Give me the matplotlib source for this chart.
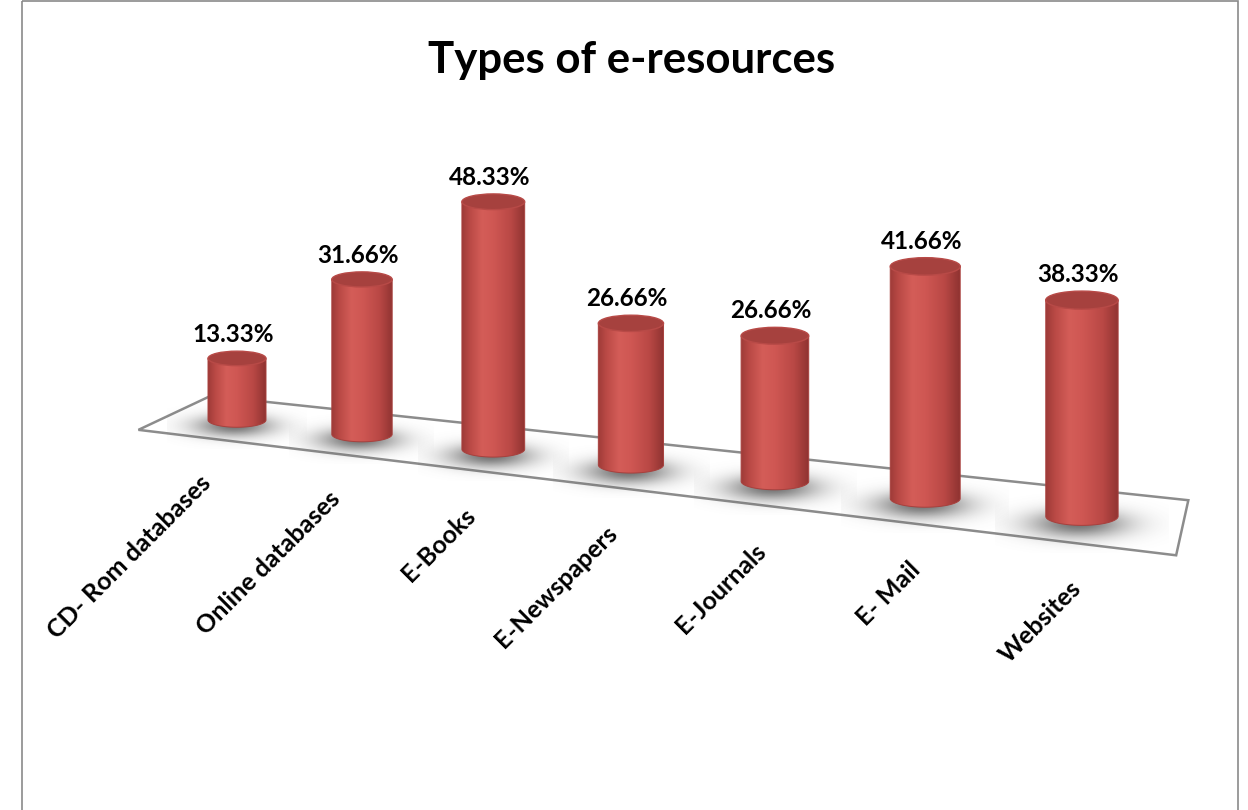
import numpy as np
import matplotlib
matplotlib.use("Agg")
import matplotlib.pyplot as plt
from matplotlib.patches import Ellipse, PathPatch, Polygon, Rectangle
from matplotlib.path import Path
from matplotlib.transforms import Transform
from matplotlib.colors import LinearSegmentedColormap

# ---- data -------------------------------------------------------------
categories = ["CD- Rom databases", "Online databases", "E-Books", "E-Newspapers",
              "E-Journals", "E- Mail", "Websites"]
values = [13.33, 31.66, 48.33, 26.66, 26.66, 41.66, 38.33]
title = "Types of e-resources"

plt.rcParams['font.family'] = ['Lato', 'DejaVu Sans']

W, H = 1248, 810


class BarPerspective(Transform):
    """Maps (category index, value in %) onto canvas pixels (y pointing down)."""
    input_dims = 2
    output_dims = 2

    def __init__(self, x0=237.0, step=121.8, bend=3.17, y0=420.0, tilt=0.114,
                 unit=(4.62, 0.29, -0.02), radius=(29.0, 1.2)):
        super().__init__()
        self.x0, self.step, self.bend = x0, step, bend
        self.y0, self.tilt = y0, tilt
        self.unit_coef = unit
        self.radius_coef = radius

    def unit(self, u):
        a, b, c = self.unit_coef
        return a + b * u + c * u * u

    def radius(self, u):
        return self.radius_coef[0] + self.radius_coef[1] * u

    def depth(self, u):
        # half-depth vector of the floor (pointing to the back edge)
        return np.array([36.0 - 4.2 * (u + 0.5), -17.0 - 1.48 * (u + 0.5)])

    def transform_non_affine(self, pts):
        pts = np.asarray(pts, float)
        u, v = pts[:, 0], pts[:, 1]
        x = self.x0 + u * (self.step + self.bend * u)
        y = self.y0 + self.tilt * (x - self.x0) - self.unit(u) * v
        return np.column_stack([x, y])


proj = BarPerspective()

fig = plt.figure(figsize=(W / 100, H / 100), dpi=100)
ax = fig.add_axes([0, 0, 1, 1])
ax.set_xlim(0, W)
ax.set_ylim(H, 0)
ax.axis('off')

# chart frame
ax.add_patch(Rectangle((22, 1), 1216, 815, fill=False, ec='#8a8a8a', lw=1.2, zorder=0))

# title
ax.text(632, 60, title, ha='center', va='center', fontsize=31.5, fontweight='bold',
        color='black')

# ---- floor --------------------------------------------------------------
u_lo, u_hi = -0.52, len(values) - 1 + 0.62
pl = proj.transform([[u_lo, 0]])[0]
pr = proj.transform([[u_hi, 0]])[0]
dl, dr = proj.depth(u_lo), proj.depth(u_hi)
floor = Polygon([pl - dl, pl + dl, pr + dr, pr - dr], closed=True, fc='white',
                ec='#8c8c8c', lw=1.8, zorder=1)
ax.add_patch(floor)

body_cmap = LinearSegmentedColormap.from_list(
    'body', [(0.0, '#9e3b38'), (0.12, '#b94945'), (0.32, '#d45d58'),
             (0.5, '#cf5753'), (0.78, '#b94845'), (1.0, '#8f3331')])
grad = body_cmap(np.linspace(0, 1, 256))[None, :, :]

shadow_rgb = np.array([0.36, 0.36, 0.36])

for i, (cat, val) in enumerate(zip(categories, values)):
    (cx, yb), (_, yt) = proj.transform([[i, 0], [i, val]])
    r = proj.radius(i)
    b = 0.25 * r

    # soft floor shadow
    sx0, sx1 = cx - 2.4 * r, cx + 2.4 * r
    sy0, sy1 = yb - 1.0 * r, yb + 1.0 * r
    gx, gy = np.meshgrid(np.linspace(sx0, sx1, 180), np.linspace(sy0, sy1, 90))
    a = 0.85 * np.exp(-0.5 * (((gx - (cx - 0.1 * r)) / (0.95 * r)) ** 2
                              + ((gy - (yb + 0.2 * r)) / (0.27 * r)) ** 2))
    img = np.zeros(gx.shape + (4,))
    img[..., :3] = shadow_rgb
    img[..., 3] = a
    ax.imshow(img, extent=(sx0, sx1, sy1, sy0), origin='upper', aspect='auto',
              interpolation='bilinear', zorder=2)

    # cylinder body
    th = np.linspace(0, np.pi, 60)
    arc = np.column_stack([cx + r * np.cos(th), yb + b * np.sin(th)])
    verts = np.vstack([[cx - r, yt], [cx + r, yt], arc, [cx - r, yt]])
    codes = [Path.MOVETO] + [Path.LINETO] * (len(verts) - 2) + [Path.CLOSEPOLY]
    body_path = Path(verts, codes)
    clip = PathPatch(body_path, fc='none', ec='none', zorder=3)
    ax.add_patch(clip)
    im = ax.imshow(grad, extent=(cx - r, cx + r, yb + b + 1, yt - 1), origin='upper',
                   aspect='auto', interpolation='bilinear', zorder=3)
    im.set_clip_path(clip)
    ax.add_patch(PathPatch(body_path, fc='none', ec='#a8403d', lw=0.7, zorder=3.1))

    # cylinder top
    ax.add_patch(Ellipse((cx, yt), 2 * r, 2 * b, fc='#a6413e', ec='#b84a47',
                         lw=1.0, zorder=3.2))

    # value label
    ax.text(cx - 4, yt - b - 9, f"{val:.2f}%", ha='center', va='baseline',
            fontsize=17.5, fontweight='bold', color='black', zorder=5)

    # category label at the front edge of the floor
    front = np.array([cx, yb]) - proj.depth(i)
    ax.text(front[0] + 4, front[1] + 42, cat, rotation=45, rotation_mode='anchor',
            ha='right', va='center', fontsize=18, fontweight='bold',
            color='black', zorder=5)

ax.set_xlim(0, W)
ax.set_ylim(H, 0)
fig.savefig('out.png', dpi=100, facecolor='white')
